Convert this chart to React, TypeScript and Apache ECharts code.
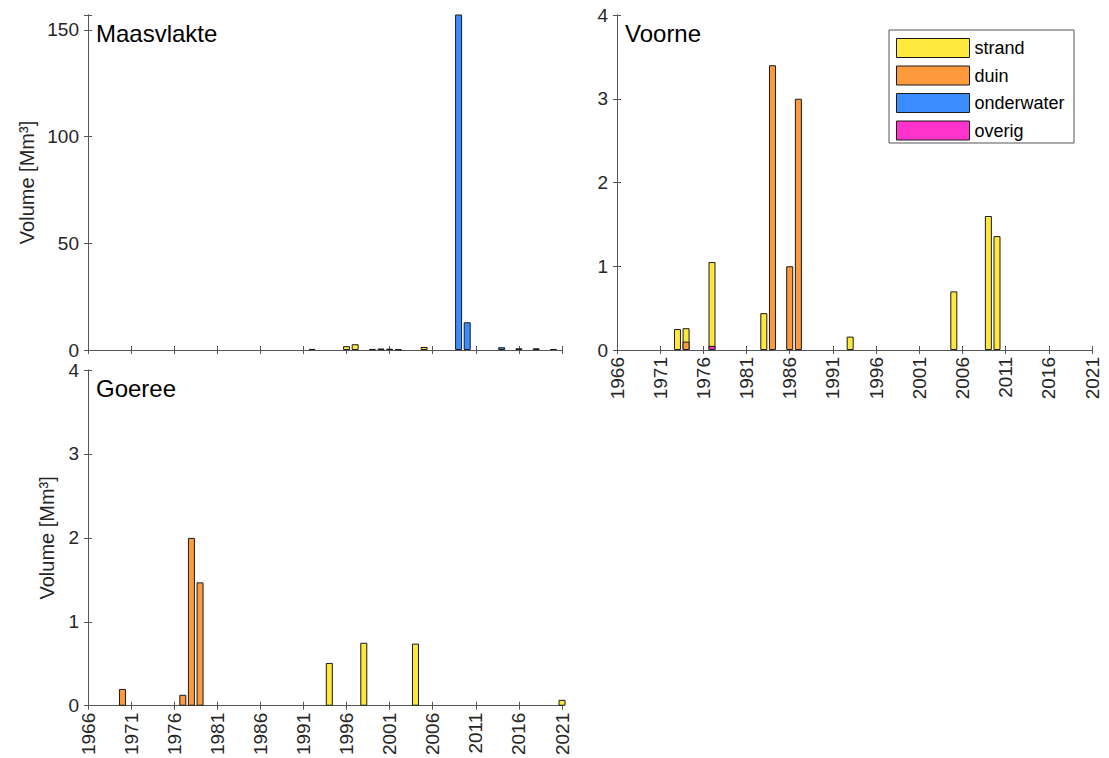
import React, { useEffect, useRef } from "react";
import * as echarts from "echarts";

const FONT = "'Liberation Sans', Arial, Helvetica, sans-serif";
const AX_LINE = "#555555";
const AX_TEXT = "#262626";

const YEAR0 = 1966;
const YEAR1 = 2021;
const X_TICK_STEP = 5;

const seriesNames = ["strand", "duin", "onderwater", "overig"];
const seriesColors = ["#ffe83c", "#ff9a3c", "#3b8cff", "#ff33cc"];

// [year, volume Mm3]
const maasStrand = [[1992, 0.5], [1996, 1.8], [1997, 2.7], [1999, 0.5], [2000, 0.7], [2002, 0.3], [2005, 1.4], [2016, 0.8], [2018, 0.8]];
const maasDuin = [[2001, 0.6], [2020, 0.5]];
const maasOnderwater = [[2009, 175], [2010, 13], [2014, 1.3]];
const maasOverig: number[][] = [];

const voorneStrand = [[1973, 0.25], [1974, 0.26], [1977, 1.05], [1983, 0.44], [1993, 0.16], [2005, 0.7], [2009, 1.6], [2010, 1.36]];
const voorneDuin = [[1974, 0.1], [1984, 3.4], [1986, 1.0], [1987, 3.0]];
const voorneOnderwater: number[][] = [];
const voorneOverig = [[1977, 0.05]];

const goereeStrand = [[1994, 0.51], [1998, 0.75], [2004, 0.74], [2021, 0.07]];
const goereeDuin = [[1970, 0.2], [1977, 0.13], [1978, 2.0], [1979, 1.47]];
const goereeOnderwater: number[][] = [];
const goereeOverig: number[][] = [];

const panels = [
  { title: "Maasvlakte", yMax: 157, yInterval: 50, data: [maasStrand, maasDuin, maasOnderwater, maasOverig], xLabels: false, yName: true, nameGap: 51 },
  { title: "Voorne", yMax: 4, yInterval: 1, data: [voorneStrand, voorneDuin, voorneOnderwater, voorneOverig], xLabels: true, yName: false, nameGap: 0 },
  { title: "Goeree", yMax: 4, yInterval: 1, data: [goereeStrand, goereeDuin, goereeOnderwater, goereeOverig], xLabels: true, yName: true, nameGap: 31 },
];

const grids = [
  { left: 88, top: 15, width: 474, height: 335 },
  { left: 617, top: 15, width: 475, height: 335 },
  { left: 88, top: 370, width: 474, height: 336 },
];

export default function App() {
  const ref = useRef<HTMLDivElement>(null);
  useEffect(() => {
    document.body.style.margin = "0";
    const chart = echarts.init(ref.current!, null, { renderer: "svg" });
    const xMax = YEAR1 - YEAR0;
    const xAxis: any[] = [];
    const yAxis: any[] = [];
    const series: any[] = [];
    const title: any[] = [];
    const line = { show: true, lineStyle: { color: AX_LINE, width: 1 } };
    const tick = { show: true, inside: true, length: 4, lineStyle: { color: AX_LINE } };
    panels.forEach((p, i) => {
      xAxis.push({
        type: "value", gridIndex: i, min: 0, max: xMax, interval: X_TICK_STEP, position: "bottom",
        axisLine: line, axisTick: tick,
        axisLabel: { show: p.xLabels, rotate: 90, margin: 7, color: AX_TEXT, fontSize: 19, fontFamily: FONT, formatter: (v: number) => String(v + YEAR0) },
        splitLine: { show: false },
      });
      xAxis.push({
        type: "value", gridIndex: i, min: 0, max: xMax, interval: X_TICK_STEP, position: "top",
        axisLine: line, axisTick: tick,
        axisLabel: { show: false }, splitLine: { show: false },
      });
      yAxis.push({
        type: "value", gridIndex: i, min: 0, max: p.yMax, interval: p.yInterval, position: "left",
        name: p.yName ? "Volume [Mm³]" : "", nameLocation: "middle", nameGap: p.nameGap,
        nameTextStyle: { color: AX_TEXT, fontSize: 20, fontFamily: FONT },
        axisLine: line, axisTick: tick,
        axisLabel: { color: AX_TEXT, fontSize: 19, fontFamily: FONT, margin: 9, formatter: (v: number) => (v % p.yInterval === 0 ? String(v) : "") },
        splitLine: { show: false },
      });
      yAxis.push({
        type: "value", gridIndex: i, min: 0, max: p.yMax, interval: p.yInterval, position: "right",
        axisLine: line, axisTick: tick,
        axisLabel: { show: false }, splitLine: { show: false },
      });
      p.data.forEach((pts, k) => {
        series.push({
          type: "bar", name: seriesNames[k], xAxisIndex: 2 * i, yAxisIndex: 2 * i,
          data: pts.map(([yr, v]) => [yr - YEAR0, v]),
          barWidth: 7, barGap: "-100%",
          itemStyle: { color: seriesColors[k], borderColor: "#1a1a1a", borderWidth: 1 },
        });
      });
      title.push({
        text: p.title, left: grids[i].left + 8, top: grids[i].top + 6, padding: 0,
        textStyle: { fontSize: 24, fontWeight: "normal", color: "#000", fontFamily: FONT },
      });
    });
    chart.setOption({
      animation: false,
      backgroundColor: "#fff",
      title,
      grid: grids.map((g) => ({ ...g, containLabel: false })),
      xAxis, yAxis, series,
      legend: {
        data: seriesNames, orient: "vertical", left: 896, top: 38, padding: 0,
        itemWidth: 73, itemHeight: 19, itemGap: 7.5, itemTextGap: 6, icon: "rect",
        textStyle: { fontSize: 18, color: "#000", fontFamily: FONT },
        itemStyle: { borderColor: "#1a1a1a", borderWidth: 1 },
        z: 5,
      },
      graphic: [
        { type: "rect", z: 4, shape: { x: 889, y: 30, width: 185, height: 113 }, style: { fill: "#fff", stroke: AX_LINE, lineWidth: 1 } },
      ],
    });
    return () => chart.dispose();
  }, []);
  return <div ref={ref} style={{ width: 1109, height: 758 }} />;
}
